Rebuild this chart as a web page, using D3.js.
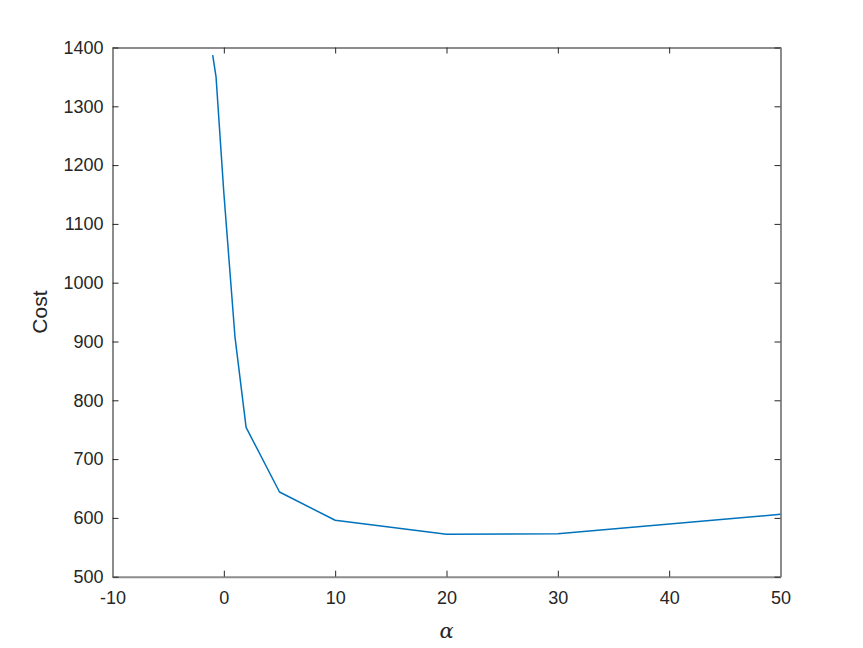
<!DOCTYPE html>
<html>
<head>
<meta charset="utf-8">
<script src="https://cdn.jsdelivr.net/npm/d3@7"></script>
<style>
  body { margin: 0; background: #fff; }
  svg { font-family: "Liberation Sans", Arial, sans-serif; }
</style>
</head>
<body>
<script>
// values
const alphas = [-1, -0.7, 0, 1, 2, 5, 10, 20, 30, 50];
const costs = [1387, 1350, 1153, 908, 754, 644, 596, 572, 573, 606];
const xTicks = [-10, 0, 10, 20, 30, 40, 50];
const yTicks = [500, 600, 700, 800, 900, 1000, 1100, 1200, 1300, 1400];

const width = 863, height = 648;
const margin = {left: 112.5, right: 82.5, top: 47.5, bottom: 71.3};

const svg = d3.select("body").append("svg")
    .attr("width", width)
    .attr("height", height);

const x = d3.scaleLinear().domain([-10, 50]).range([margin.left, width - margin.right]);
const y = d3.scaleLinear().domain([500, 1400]).range([height - margin.bottom, margin.top]);

const fmt = d => String(d);   // plain "-10", no thousands comma

// ticks pointing inward
const xAxis = svg.append("g")
    .attr("transform", "translate(0," + y(500) + ")")
    .call(d3.axisBottom(x).tickValues(xTicks).tickSizeInner(-6).tickSizeOuter(0).tickPadding(15).tickFormat(fmt));
const xAxisTop = svg.append("g")
    .attr("transform", "translate(0," + y(1400) + ")")
    .call(d3.axisTop(x).tickValues(xTicks).tickSizeInner(-6).tickSizeOuter(0).tickFormat(""));
const yAxis = svg.append("g")
    .attr("transform", "translate(" + x(-10) + ",0)")
    .call(d3.axisLeft(y).tickValues(yTicks).tickSizeInner(-6).tickSizeOuter(0).tickPadding(9).tickFormat(fmt));
const yAxisRight = svg.append("g")
    .attr("transform", "translate(" + x(50) + ",0)")
    .call(d3.axisRight(y).tickValues(yTicks).tickSizeInner(-6).tickSizeOuter(0).tickFormat(""));

[xAxis, xAxisTop, yAxis, yAxisRight].forEach(g => {
  g.select(".domain").attr("stroke", "#8c8c8c").attr("stroke-width", 2);
  g.selectAll(".tick line").attr("stroke", "#262626").attr("stroke-width", 1);
  g.selectAll(".tick text").attr("fill", "#262626").attr("font-size", 18)
      .attr("font-family", "Liberation Sans, Arial, sans-serif");
});
xAxis.selectAll(".tick text").attr("dy", "0.71em");

const line = d3.line()
    .x((d, i) => x(alphas[i]))
    .y(d => y(d));

svg.append("path")
    .datum(costs)
    .attr("fill", "none")
    .attr("stroke", "#0072BD")
    .attr("stroke-width", 1.5)
    .attr("stroke-linejoin", "round")
    .attr("d", line);

svg.append("text")
    .attr("transform", "translate(47," + ((y(500) + y(1400)) / 2) + ") rotate(-90)")
    .attr("text-anchor", "middle")
    .attr("font-size", 21)
    .attr("fill", "#262626")
    .text("Cost");

svg.append("text")
    .attr("x", (x(-10) + x(50)) / 2)
    .attr("y", 638)
    .attr("text-anchor", "middle")
    .attr("font-size", 21)
    .attr("font-style", "italic")
    .attr("font-family", "DejaVu Serif, Liberation Serif, serif")
    .attr("fill", "#262626")
    .text("α");
</script>
</body>
</html>
